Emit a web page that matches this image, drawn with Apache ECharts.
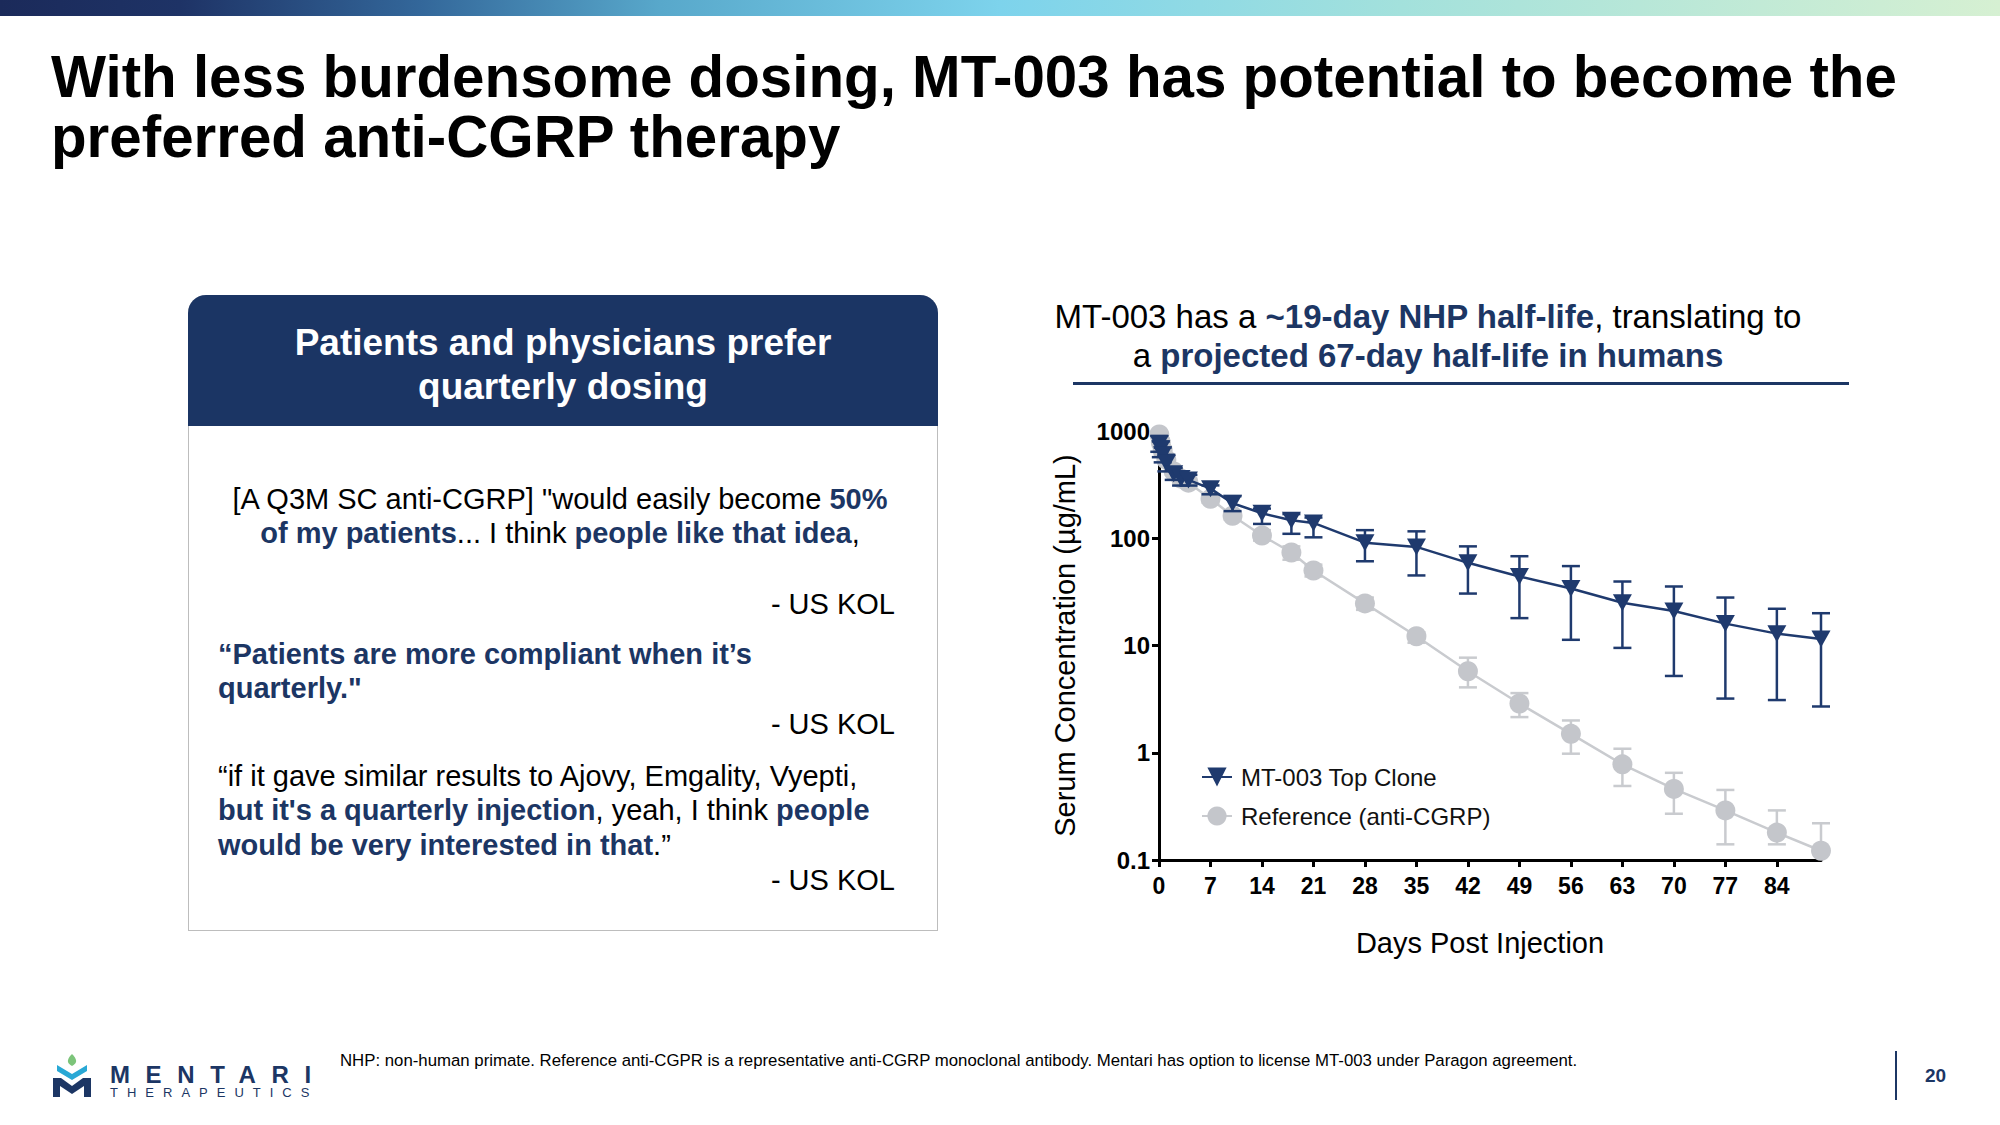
<!DOCTYPE html>
<html>
<head>
<meta charset="utf-8">
<script src="https://cdn.jsdelivr.net/npm/echarts@6/dist/echarts.min.js"></script>
<style>
  html, body { margin:0; padding:0; background:#fff; }
  #page { position:relative; width:2000px; height:1125px; overflow:hidden; background:#fff; font-family: Arial, "Liberation Sans", Helvetica, sans-serif; }
  #topbar { position:absolute; left:0; top:0; width:2000px; height:16px;
    background: linear-gradient(90deg, #1b2a5a 0%, #1e3366 9%, #33679a 21%, #58a8cb 33%, #7dd3ec 50%, #a3e1dc 70%, #d6f0d2 100%); }
  #chart { position:absolute; left:0; top:0; width:2000px; height:1125px; z-index:1; }
  .t { position:absolute; white-space:nowrap; line-height:1; z-index:2; }
  .b { font-weight:bold; color:#1c3664; }
  #box { position:absolute; left:188px; top:295px; width:750px; height:636px; box-sizing:border-box; border:1.5px solid #bdbdbd; border-top:none; border-radius:18px 18px 0 0; background:#fff; }
  #boxhead { position:absolute; left:188px; top:295px; width:750px; height:131px; background:#1b3564; border-radius:18px 18px 0 0; }
  #uline { position:absolute; left:1073px; top:382px; width:776px; height:3px; background:#1c3664; }
  #vline { position:absolute; left:1895px; top:1051px; width:1.5px; height:49px; background:#1c3664; }
</style>
</head>
<body>
<div id="page">
  <div id="topbar"></div>
  <div id="box"></div>
  <div id="boxhead"></div>
  <div id="uline"></div>
  <div id="vline"></div>
  <svg style="position:absolute;left:51px;top:1053px;z-index:2" width="44" height="46" viewBox="0 0 44 46">
    <path d="M21 1 C16 6 15 10 21 13 C27 10 26 6 21 1 Z" fill="#7cc47a"/>
    <path d="M6 12 L21 21 L36 12 L36 18 L21 27 L6 18 Z" fill="#29a8d5"/>
    <path d="M2 25 L10 25 L21 33 L32 25 L40 25 L40 44 L33 44 L33 33 L21 41 L9 33 L9 44 L2 44 Z" fill="#1c3664"/>
  </svg>
  <div id="chart"></div>
</div>
<script>
// ---------------- data ----------------
const days = [0.04, 0.25, 0.5, 1, 2, 3, 4, 7, 10, 14, 18, 21, 28, 35, 42, 49, 56, 63, 70, 77, 84, 90];
const mt003   = [760, 680, 600, 500, 400, 360, 350, 290, 212, 171, 147, 139, 91, 83, 59, 44, 34, 25, 21, 16, 12.9, 11.5];
const mt003Hi = [900, 800, 700, 600, 450, 400, 390, 311, 247, 189, 168, 156, 119, 116, 84, 68, 55, 39.5, 35.5, 28, 22, 20];
const mt003Lo = [640, 570, 510, 420, 350, 310, 310, 257, 179, 136, 110, 102, 61, 45, 30.5, 18, 11.3, 9.5, 5.2, 3.2, 3.1, 2.7];
const refer   = [930, 780, 660, 540, 420, 360, 330, 233, 162, 106, 73.6, 50, 24.7, 12.2, 5.75, 2.88, 1.5, 0.78, 0.46, 0.29, 0.18, 0.122];
const referHi = [980, 850, 720, 590, 450, 390, 360, 250, 175, 119, 84, 56.7, 28, 13.3, 7.7, 3.6, 2.0, 1.09, 0.65, 0.45, 0.29, 0.22];
const referLo = [880, 720, 600, 500, 390, 330, 300, 215, 150, 95, 63, 44, 21.5, 10.6, 4.07, 2.15, 0.98, 0.49, 0.27, 0.14, 0.14, 0.122];
const xTicks = [0, 7, 14, 21, 28, 35, 42, 49, 56, 63, 70, 77, 84];
const yTickLabels = ['0.1', '1', '10', '100', '1000'];
const seriesNames = ['MT-003 Top Clone', 'Reference (anti-CGRP)'];

// ---------------- slide text ----------------
const page = document.getElementById('page');
function put(html, x, baseline, size, opts) {
  opts = opts || {};
  const d = document.createElement('div');
  d.className = 't';
  d.innerHTML = html;
  d.style.fontSize = size + 'px';
  d.style.top = (baseline - 0.8465 * size) + 'px';
  if (opts.bold) d.style.fontWeight = 'bold';
  if (opts.color) d.style.color = opts.color;
  if (opts.ls) d.style.letterSpacing = opts.ls + 'px';
  page.appendChild(d);
  const w = d.getBoundingClientRect().width;
  if (opts.align === 'center') d.style.left = (x - w / 2) + 'px';
  else if (opts.align === 'right') d.style.left = (x - w) + 'px';
  else d.style.left = x + 'px';
  return d;
}
// title
put('With less burdensome dosing, MT-003 has potential to become the', 51, 97, 58.3, {bold:true, color:'#000'});
put('preferred anti-CGRP therapy', 51, 157, 58.3, {bold:true, color:'#000'});
// box header
put('Patients and physicians prefer', 563, 355, 37, {bold:true, color:'#fff', align:'center'});
put('quarterly dosing', 563, 399, 37, {bold:true, color:'#fff', align:'center'});
// quotes
const qs = 29;
put('[A Q3M SC anti-CGRP] "would easily become <span class="b">50%</span>', 560, 510, qs, {align:'center'});
put('<span class="b">of my patients</span>... I think <span class="b">people like that idea</span>,', 560, 544, qs, {align:'center'});
put('- US KOL', 895, 615, qs, {align:'right'});
put('<span class="b">\u201cPatients are more compliant when it\u2019s</span>', 218, 665, qs);
put('<span class="b">quarterly."</span>', 218, 699, qs);
put('- US KOL', 895, 735, qs, {align:'right'});
put('\u201cif it gave similar results to Ajovy, Emgality, Vyepti,', 218, 787, qs);
put('<span class="b">but it\'s a quarterly injection</span>, yeah, I think <span class="b">people</span>', 218, 821, qs);
put('<span class="b">would be very interested in that</span>.\u201d', 218, 856, qs);
put('- US KOL', 895, 891, qs, {align:'right'});
// chart heading
put('MT-003 has a <span class="b">~19-day NHP half-life</span>, translating to', 1428, 328, 33, {align:'center'});
put('a <span class="b">projected 67-day half-life in humans</span>', 1428, 367, 33, {align:'center'});
// footer
put('NHP: non-human primate. Reference anti-CGPR is a representative anti-CGRP monoclonal antibody. Mentari has option to license MT-003 under Paragon agreement.', 340, 1067, 16.8, {color:'#000'});
put('20', 1925, 1082, 19, {bold:true, color:'#1c3664'});
put('MENTARI', 110, 1083, 24, {bold:true, color:'#1c3664', ls:15.6});
put('THERAPEUTICS', 110, 1097, 13, {color:'#1c3664', ls:9});

// ---------------- chart ----------------
const NAVY = '#1f3a6e';
const GRAY = '#c4c6cb';
function errRender(color, capHalf, lw) {
  return function (params, api) {
    const x = api.value(0), hi = api.value(1), lo = api.value(2), mid = api.value(3);
    const pHi = api.coord([x, hi]);
    const pLo = api.coord([x, lo]);
    const st = {stroke: color, lineWidth: lw};
    const ch = [
      {type:'line', shape:{x1:pHi[0], y1:pHi[1], x2:pLo[0], y2:pLo[1]}, style:st},
      {type:'line', shape:{x1:pHi[0]-capHalf, y1:pHi[1], x2:pHi[0]+capHalf, y2:pHi[1]}, style:st}
    ];
    if (lo < mid) ch.push({type:'line', shape:{x1:pLo[0]-capHalf, y1:pLo[1], x2:pLo[0]+capHalf, y2:pLo[1]}, style:st});
    return {type:'group', children: ch};
  };
}
const chart = echarts.init(document.getElementById('chart'), null, {renderer:'svg', width:2000, height:1125});
const axisFont = '"Liberation Sans", Arial, sans-serif';
chart.setOption({
  animation: false,
  grid: {left: 1159, top: 431, width: 662, height: 429, containLabel: false},
  legend: {
    orient: 'vertical', left: 1196, top: 760, itemGap: 15,
    itemWidth: 30, itemHeight: 24,
    data: seriesNames,
    textStyle: {fontSize: 24, color: '#111', fontFamily: axisFont, padding: [0,0,0,4]}
  },
  xAxis: {
    type: 'value', min: 0, max: 90,
    name: 'Days Post Injection', nameLocation: 'middle', nameGap: 68,
    nameTextStyle: {fontSize: 29, color: '#000', fontFamily: axisFont, padding: [0, 20, 0, 0]},
    axisLine: {show: true, lineStyle: {color: '#000', width: 3}},
    axisTick: {show: true, length: 7, lineStyle: {width: 3, color: '#000'}, customValues: xTicks},
    axisLabel: {customValues: xTicks, fontSize: 23, fontWeight: 'bold', color: '#000', margin: 14, fontFamily: axisFont},
    splitLine: {show: false}
  },
  yAxis: {
    type: 'log', logBase: 10, min: 0.1, max: 1000,
    name: 'Serum Concentration (\u00b5g/mL)', nameLocation: 'middle', nameGap: 80, nameRotate: 90,
    nameTextStyle: {fontSize: 29, color: '#000', fontFamily: axisFont},
    axisLine: {show: true, lineStyle: {color: '#000', width: 3}},
    axisTick: {show: true, length: 7, lineStyle: {width: 3, color: '#000'}},
    axisLabel: {fontSize: 24, fontWeight: 'bold', color: '#000', margin: 9, fontFamily: axisFont,
      formatter: function (v) {
        const e = Math.round(Math.log10(v)) + 1;
        return yTickLabels[e] !== undefined ? yTickLabels[e] : '';
      }},
    splitLine: {show: false}, minorTick: {show: false}
  },
  series: [
    {
      type: 'custom', name: 'refErr', z: 1, silent: true,
      renderItem: errRender('#c9cbcf', 9, 2.5),
      encode: {x: 0, y: [1, 2, 3]},
      data: days.map((d, i) => [d, referHi[i], referLo[i], refer[i]])
    },
    {
      type: 'line', name: seriesNames[1], z: 2,
      data: days.map((d, i) => [d, refer[i]]),
      symbol: 'circle', symbolSize: 20, showAllSymbol: true,
      itemStyle: {color: GRAY},
      lineStyle: {color: '#c9cbcf', width: 2.5}
    },
    {
      type: 'custom', name: 'mtErr', z: 3, silent: true,
      renderItem: errRender(NAVY, 9, 2.5),
      encode: {x: 0, y: [1, 2, 3]},
      data: days.map((d, i) => [d, mt003Hi[i], mt003Lo[i], mt003[i]])
    },
    {
      type: 'line', name: seriesNames[0], z: 4,
      data: days.map((d, i) => [d, mt003[i]]),
      symbol: 'triangle', symbolRotate: 180, symbolSize: [19, 17], showAllSymbol: true,
      itemStyle: {color: NAVY},
      lineStyle: {color: NAVY, width: 2.5}
    }
  ]
});
</script>
</body>
</html>
